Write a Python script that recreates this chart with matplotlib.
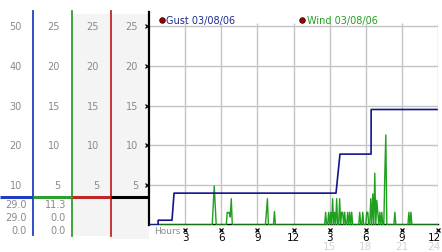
import numpy as np
import matplotlib
matplotlib.use("Agg")
import matplotlib.pyplot as plt
from matplotlib.transforms import blended_transform_factory
from matplotlib.patches import Rectangle

# Data
title_gust = "Gust 03/08/06"
title_wind = "Wind 03/08/06"

# gust steps (hours since start, mph on the 0-50 scale)
gust_hours = [0.0, 0.75, 0.76, 1.91, 2.08, 15.53, 15.86, 18.44, 18.45, 23.92]
gust_mph = [0.0, 0.0, 1.2, 1.2, 8.0, 8.0, 17.8, 17.8, 29.0, 29.0]

# wind is sampled every 5 minutes, only non-zero readings listed
wind_samples = [64, 65, 66, 78, 79, 80, 81, 82, 117, 118, 125,
                176, 179, 181, 183, 185, 187, 190, 192, 193, 195, 198, 200, 202,
                210, 213, 217, 218, 221, 223, 225, 227, 228, 230, 232, 235, 236,
                245, 259, 261]
wind_mph = [2.4, 4.9, 2.4, 1.6, 1.5, 1.6, 1.0, 3.3, 1.6, 3.3, 1.7,
            1.6, 1.6, 1.6, 3.3, 1.6, 3.3, 3.3, 1.6, 1.6, 1.6, 1.6, 1.6, 1.6,
            1.6, 1.6, 1.6, 1.6, 3.3, 3.9, 6.5, 3.1, 1.6, 1.6, 1.6, 6.4, 11.3,
            1.6, 1.6, 1.6]

gust_scale = [50, 40, 30, 20, 10]
wind_scale = [25, 20, 15, 10, 5]
gust_stats = ["29.0", "29.0", "0.0"]
wind_stats = ["11.3", "0.0", "0.0"]

hour_ticks = [3, 6, 9, 12, 15, 18, 21, 24]
hour_labels = ["3", "6", "9", "12", "3", "6", "9", "12"]
hour_labels_2 = ["15", "18", "21", "24"]

# full 5 minute series
wind_hours = np.arange(289) / 12.0
wind = np.zeros(289)
wind[wind_samples] = wind_mph

W, H = 442, 253
fig = plt.figure(figsize=(W / 100, H / 100), dpi=100)

# pixel-coordinate layer for the left panel
panel = fig.add_axes([0, 0, 1, 1], zorder=0)
panel.set_xlim(0, W)
panel.set_ylim(H, 0)
panel.axis("off")

ax = fig.add_axes([149 / W, 27 / H, 289 / W, 212.7 / H], zorder=1)
ax.set_xlim(0, 24)
ax.set_ylim(0, 26.7)
ax2 = ax.twinx()
ax2.set_ylim(0, 53.4)

grid_c = "#c4c4c4"
blue = "#1f3fbf"
green = "#2e9e2e"
red = "#c02828"
gray = "#8a8a8a"

# grid
ax.hlines(wind_scale, 0, 24, color=grid_c, lw=1, zorder=0)
ax.vlines(hour_ticks, 0, 25.3, color=grid_c, lw=1, zorder=0)

ax2.plot(gust_hours, gust_mph, color="#14148a", lw=1.2, zorder=3)
ax.plot(wind_hours, wind, color="#1fa01f", lw=1, zorder=4)

for a in (ax, ax2):
    a.set_xticks([])
    a.set_yticks([])
    for s in a.spines.values():
        s.set_visible(False)
ax.spines["left"].set_visible(True)
ax.spines["left"].set_color("black")
ax.spines["left"].set_linewidth(1.6)
ax.spines["bottom"].set_visible(True)
ax.spines["bottom"].set_color("black")
ax.spines["bottom"].set_linewidth(1)
ax.spines["bottom"].set_position(("data", 0.13))

# left panel backgrounds and column lines
panel.add_patch(Rectangle((72.5, 15), 38.5, 222, color="#f4f4f4", lw=0))
panel.add_patch(Rectangle((111, 15), 38, 225, color="#f4f4f4", lw=0))
panel.plot([33, 33], [12, 236], color=blue, lw=1.3)
panel.plot([72, 72], [12, 237], color=green, lw=1.3)
panel.plot([111, 111], [12, 237], color=red, lw=1.3)
for x0, x1, c in [(0, 33, blue), (33, 72, green), (72, 111, red), (111, 149, "black")]:
    panel.plot([x0, x1], [197.7, 197.7], color=c, lw=2.2, solid_capstyle="butt")

tw = blended_transform_factory(panel.transData, ax.transData)
tg = blended_transform_factory(panel.transData, ax2.transData)
for v in gust_scale:
    panel.text(22, v, str(v), transform=tg, ha="right", va="center", fontsize=7, color=gray)
for x in (60, 99, 138):
    for v in wind_scale:
        panel.text(x, v, str(v), transform=tw, ha="right", va="center", fontsize=7, color=gray)

# small x markers on the axes
panel.plot([146.5] * len(wind_scale), wind_scale, transform=tw, ls="none",
           marker="x", ms=2.8, mew=0.9, color="black")
tx = blended_transform_factory(ax.transData, panel.transData)
panel.plot(hour_ticks, [230.5] * len(hour_ticks), transform=tx, ls="none",
           marker="x", ms=2.8, mew=0.9, color="black", clip_on=False)

for h, lab in zip(hour_ticks, hour_labels):
    if h == 24:
        panel.text(441, 238.5, lab, ha="right", va="center", fontsize=7.5, color="black")
    else:
        panel.text(h, 238.5, lab, transform=tx, ha="center", va="center", fontsize=7.5, color="black")
for h, lab in zip(hour_ticks[4:], hour_labels_2):
    if h == 24:
        panel.text(441, 247.5, lab, ha="right", va="center", fontsize=7.5, color="#d4d4d4")
    else:
        panel.text(h, 247.5, lab, transform=tx, ha="center", va="center", fontsize=7.5, color="#d4d4d4")
panel.text(154, 232, "Hours", ha="left", va="center", fontsize=6.5, color=gray)

# stats under the scales
for i, y in enumerate([205, 218.5, 231.5]):
    panel.text(26.7, y, gust_stats[i], ha="right", va="center", fontsize=7, color=gray)
    panel.text(66, y, wind_stats[i], ha="right", va="center", fontsize=7, color=gray)

# legend entries, drawn on the top axes so the white plot area does not hide them
ax2.plot([161.5, 302], [20.5, 20.5], transform=panel.transData, ls="none", marker="o", ms=4,
         mfc="#a00000", mec="#400000", mew=0.6, clip_on=False)
ax2.text(166, 20.5, title_gust, transform=panel.transData, ha="left", va="center",
         fontsize=7, color="#1c2c90")
ax2.text(307, 20.5, title_wind, transform=panel.transData, ha="left", va="center",
         fontsize=7, color="#20a020")

fig.savefig("out.png", dpi=100)
